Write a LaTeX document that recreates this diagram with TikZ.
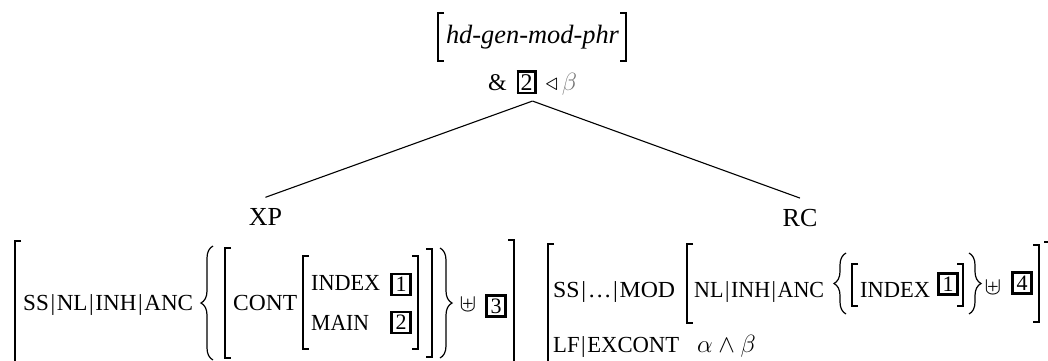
\documentclass[tikz,border=0pt]{standalone}
\usepackage{graphicx}
\usepackage{fontspec}
\setmainfont{Liberation Serif}
\usetikzlibrary{decorations.pathreplacing}

% sizes used in the feature structures
\newcommand\avmfont{\fontsize{22}{26}\selectfont}
\newcommand\featfont{\fontsize{23}{27}\selectfont}
\newcommand\catfont{\fontsize{26}{30}\selectfont}
% path separator inside feature paths
\newcommand\fp{\hspace{1.6pt}|\hspace{1.6pt}}
% feature label set to a given width (small-caps proportions)
\newcommand\fw[2]{\resizebox{#1pt}{\height}{#2}}
% boxed tag inside running text
\newcommand\tagnum[1]{{\setlength\fboxrule{2.4pt}\setlength\fboxsep{1.6pt}\fbox{#1}}}
% square brackets: x, top, bottom
\newcommand\opbr[3]{\draw[brk] (#1+6,#2) -- (#1,#2) -- (#1,#3) -- (#1+6,#3);}
\newcommand\clbr[3]{\draw[brk] (#1-6,#2) -- (#1,#2) -- (#1,#3) -- (#1-6,#3);}
% curly braces: x of the tips, top, bottom
\newcommand\opbrace[3]{\draw[brc] (#1,#3) -- (#1,#2);}
\newcommand\clbrace[3]{\draw[brc] (#1,#2) -- (#1,#3);}

\begin{document}
\begin{tikzpicture}[x=1pt,y=-1pt,
  brk/.style={line width=1.2pt},
  brc/.style={line width=1.2pt, decorate, decoration={brace, amplitude=12pt}},
  tree/.style={line width=1.1pt},
  lbl/.style={inner sep=0pt, anchor=base west, font=\featfont},
  op/.style={inner sep=0pt, font=\fontsize{26}{30}\selectfont},
  tagb/.style={draw, line width=2.4pt, inner sep=0pt, minimum width=19pt,
               minimum height=21pt, font=\avmfont},
  cat/.style={inner sep=0pt, inner ysep=10.5pt, anchor=base, font=\catfont},
]
\useasboundingbox (0,0) rectangle (1048,360);
\clip (0,0) rectangle (1048,360);

% ---- mother node ----
\node[inner sep=0pt, anchor=base, font=\fontsize{26.4}{30}\selectfont\itshape]
  (hd) at (532.5,43) {\resizebox{173pt}{\height}{hd-gen-mod-phr}};
\opbr{438}{13}{61}
\clbr{626}{13}{61}
\node[inner sep=0pt, inner ysep=6pt, anchor=base, font=\fontsize{24}{28}\selectfont] (cond) at (532.5,90)
  {\&\hspace{10pt}\tagnum{2}\hspace{9pt}$\triangleleft$\hspace{4pt}\textcolor[gray]{0.45}{\fontsize{28}{30}\selectfont$\beta$}};

% ---- daughters ----
\node[cat] (xp) at (265.5,225) {XP};
\node[cat] (rc) at (800,226) {RC};
\draw[tree] (cond.south) -- (xp.north);
\draw[tree] (cond.south) -- (rc.north);

% ---- XP feature structure ----
\opbr{15}{241}{368}
\node[lbl] (xpath) at (23,310) {\fw{170}{SS\fp NL\fp INH\fp ANC}};
\opbrace{213}{246}{360}
\opbr{225}{248}{358}
\node[lbl] (cont) at (233,310) {\fw{64}{CONT}};
\opbr{303}{256}{349}
\node[lbl] (idx) at (311,290) {\fw{69}{INDEX}};
\node[lbl] (main) at (311,330) {\fw{58}{MAIN}};
\node[tagb] (t1) at (401,284.5) {1};
\node[tagb] (t2) at (401,322.5) {2};
\clbr{418}{256}{349}
\clbr{432}{249}{357}
\clbrace{440}{248}{358}
\node[op] (u1) at (468,305) {$\uplus$};
\node[tagb] (t3) at (496,306) {3};
\clbr{514}{240}{368}

% ---- RC feature structure ----
\opbr{548}{244}{372}
\node[lbl] (rpath) at (553,297) {\fw{122}{SS\fp\ldots\fp MOD}};
\opbr{687}{244}{323}
\node[lbl] (npath) at (694,297) {\fw{130}{NL\fp INH\fp ANC}};
\opbrace{846}{253}{314}
\opbr{852}{264}{306}
\node[lbl] (ridx) at (860,297) {\fw{70}{INDEX}};
\node[tagb] (r1) at (948,284) {1};
\clbr{963}{264}{306}
\clbrace{969}{253}{314}
\node[op] (u2) at (993,288) {$\uplus$};
\node[tagb] (t4) at (1022,283) {4};
\clbr{1039}{245}{322}
\clbr{1050}{242}{372}
\node[lbl] (lf) at (553,352) {\fw{126}{LF\fp EXCONT}};
\node[lbl, font=\fontsize{24}{28}\selectfont] (ab) at (697,352) {$\alpha\wedge\beta$};
\end{tikzpicture}
\end{document}
